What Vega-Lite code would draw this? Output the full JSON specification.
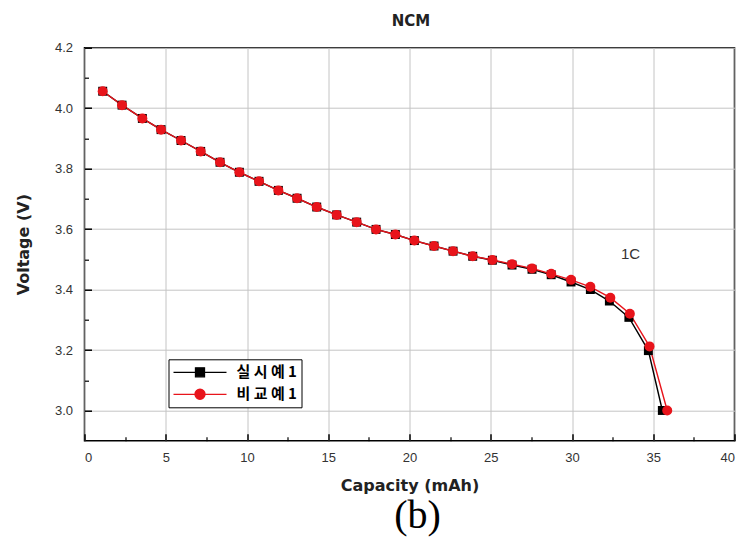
{
  "$schema": "https://vega.github.io/schema/vega-lite/v6.json",
  "width": 650,
  "height": 393,
  "autosize": {"type": "none"},
  "padding": {"left": 84.5, "top": 47.7, "right": 9.5, "bottom": 101.8},
  "background": "white",
  "title": {"text": "(b)", "orient": "bottom", "font": "Liberation Serif", "fontSize": 40, "fontWeight": "normal", "color": "#000", "offset": 2, "dx": 8},
  "config": {"view": {"stroke": "#000", "strokeWidth": 1.5}},
  "datasets": {
    "curves": [
      {"cap": 1.12, "v": 4.056, "series": "실 시 예 1"},
      {"cap": 2.31, "v": 4.010, "series": "실 시 예 1"},
      {"cap": 3.56, "v": 3.966, "series": "실 시 예 1"},
      {"cap": 4.71, "v": 3.929, "series": "실 시 예 1"},
      {"cap": 5.94, "v": 3.893, "series": "실 시 예 1"},
      {"cap": 7.15, "v": 3.857, "series": "실 시 예 1"},
      {"cap": 8.34, "v": 3.821, "series": "실 시 예 1"},
      {"cap": 9.53, "v": 3.788, "series": "실 시 예 1"},
      {"cap": 10.74, "v": 3.758, "series": "실 시 예 1"},
      {"cap": 11.93, "v": 3.728, "series": "실 시 예 1"},
      {"cap": 13.08, "v": 3.702, "series": "실 시 예 1"},
      {"cap": 14.29, "v": 3.673, "series": "실 시 예 1"},
      {"cap": 15.52, "v": 3.647, "series": "실 시 예 1"},
      {"cap": 16.75, "v": 3.623, "series": "실 시 예 1"},
      {"cap": 17.94, "v": 3.599, "series": "실 시 예 1"},
      {"cap": 19.13, "v": 3.582, "series": "실 시 예 1"},
      {"cap": 20.30, "v": 3.562, "series": "실 시 예 1"},
      {"cap": 21.51, "v": 3.544, "series": "실 시 예 1"},
      {"cap": 22.68, "v": 3.527, "series": "실 시 예 1"},
      {"cap": 23.89, "v": 3.510, "series": "실 시 예 1"},
      {"cap": 25.10, "v": 3.497, "series": "실 시 예 1"},
      {"cap": 26.31, "v": 3.481, "series": "실 시 예 1"},
      {"cap": 27.54, "v": 3.467, "series": "실 시 예 1"},
      {"cap": 28.72, "v": 3.449, "series": "실 시 예 1"},
      {"cap": 29.94, "v": 3.425, "series": "실 시 예 1"},
      {"cap": 31.13, "v": 3.400, "series": "실 시 예 1"},
      {"cap": 32.30, "v": 3.362, "series": "실 시 예 1"},
      {"cap": 33.50, "v": 3.308, "series": "실 시 예 1"},
      {"cap": 34.70, "v": 3.198, "series": "실 시 예 1"},
      {"cap": 35.56, "v": 3.000, "series": "실 시 예 1"},
      {"cap": 1.12, "v": 4.056, "series": "비 교 예 1"},
      {"cap": 2.31, "v": 4.010, "series": "비 교 예 1"},
      {"cap": 3.56, "v": 3.966, "series": "비 교 예 1"},
      {"cap": 4.71, "v": 3.929, "series": "비 교 예 1"},
      {"cap": 5.94, "v": 3.893, "series": "비 교 예 1"},
      {"cap": 7.15, "v": 3.857, "series": "비 교 예 1"},
      {"cap": 8.34, "v": 3.821, "series": "비 교 예 1"},
      {"cap": 9.53, "v": 3.788, "series": "비 교 예 1"},
      {"cap": 10.74, "v": 3.758, "series": "비 교 예 1"},
      {"cap": 11.93, "v": 3.728, "series": "비 교 예 1"},
      {"cap": 13.08, "v": 3.702, "series": "비 교 예 1"},
      {"cap": 14.29, "v": 3.673, "series": "비 교 예 1"},
      {"cap": 15.52, "v": 3.647, "series": "비 교 예 1"},
      {"cap": 16.75, "v": 3.623, "series": "비 교 예 1"},
      {"cap": 17.94, "v": 3.599, "series": "비 교 예 1"},
      {"cap": 19.13, "v": 3.582, "series": "비 교 예 1"},
      {"cap": 20.30, "v": 3.562, "series": "비 교 예 1"},
      {"cap": 21.51, "v": 3.544, "series": "비 교 예 1"},
      {"cap": 22.68, "v": 3.527, "series": "비 교 예 1"},
      {"cap": 23.89, "v": 3.510, "series": "비 교 예 1"},
      {"cap": 25.10, "v": 3.498, "series": "비 교 예 1"},
      {"cap": 26.31, "v": 3.484, "series": "비 교 예 1"},
      {"cap": 27.54, "v": 3.470, "series": "비 교 예 1"},
      {"cap": 28.72, "v": 3.452, "series": "비 교 예 1"},
      {"cap": 29.94, "v": 3.432, "series": "비 교 예 1"},
      {"cap": 31.13, "v": 3.409, "series": "비 교 예 1"},
      {"cap": 32.36, "v": 3.373, "series": "비 교 예 1"},
      {"cap": 33.56, "v": 3.320, "series": "비 교 예 1"},
      {"cap": 34.77, "v": 3.212, "series": "비 교 예 1"},
      {"cap": 35.86, "v": 3.000, "series": "비 교 예 1"}
    ],
    "labels": [
      {"cap": 33.6, "v": 3.517, "label": "1C"}
    ]
  },
  "resolve": {"axis": {"x": "independent", "y": "independent"}},
  "layer": [
    {
      "data": {"name": "curves"},
      "mark": {"type": "point", "filled": true, "size": 0, "opacity": 1, "fillOpacity": 1, "strokeOpacity": 1, "strokeWidth": 1.3},
      "encoding": {
        "x": {"field": "cap", "type": "quantitative", "scale": {"domain": [0, 40], "nice": false, "zero": false}, "axis": null},
        "y": {"field": "v", "type": "quantitative", "scale": {"domain": [2.9, 4.2], "nice": false, "zero": false}, "axis": null},
        "color": {
          "field": "series", "type": "nominal",
          "scale": {"domain": ["실 시 예 1", "비 교 예 1"], "range": ["#000000", "#e8141b"]},
          "legend": {
            "orient": "none", "legendX": 84, "legendY": 311.6, "title": null,
            "strokeColor": "#000", "fillColor": "#ffffff", "padding": 4, "cornerRadius": 0,
            "symbolSize": 2809, "clipHeight": 18, "rowPadding": 4, "symbolStrokeWidth": 1.3, "symbolOpacity": 1,
            "labelFont": "Noto Sans CJK KR", "labelFontSize": 15, "labelFontWeight": "bold", "labelColor": "#000", "labelOffset": 9
          }
        },
        "stroke": {
          "field": "series", "type": "nominal",
          "scale": {"domain": ["실 시 예 1", "비 교 예 1"], "range": ["#000000", "#e8141b"]},
          "legend": {"orient": "none", "legendX": 84, "legendY": 311.6, "title": null}
        },
        "shape": {
          "field": "series", "type": "nominal",
          "scale": {
            "domain": ["실 시 예 1", "비 교 예 1"],
            "range": ["M-1,0H1M-0.17,-0.17H0.17V0.17H-0.17Z", "M-1,0H1M-0.19,0A0.19,0.19,0,1,1,0.19,0A0.19,0.19,0,1,1,-0.19,0Z"]
          },
          "legend": {"orient": "none", "legendX": 84, "legendY": 311.6, "title": null}
        }
      }
    },
    {
      "data": {"name": "curves"},
      "mark": {"type": "line", "strokeWidth": 1.4},
      "encoding": {
        "x": {
          "field": "cap", "type": "quantitative",
          "axis": {
            "orient": "bottom", "values": [0, 5, 10, 15, 20, 25, 30, 35, 40],
            "grid": true, "gridColor": "#c4c4c4", "gridWidth": 1,
            "domain": false, "tickSize": -7, "tickColor": "#000", "tickWidth": 1.5,
            "labelFont": "Liberation Sans", "labelFontSize": 13, "labelColor": "#333", "labelPadding": 18,
            "title": "Capacity (mAh)", "titleFont": "DejaVu Sans", "titleFontSize": 16, "titleFontWeight": "bold", "titleColor": "#222", "titlePadding": 13
          }
        },
        "y": {
          "field": "v", "type": "quantitative",
          "axis": {
            "orient": "left", "values": [3.0, 3.2, 3.4, 3.6, 3.8, 4.0, 4.2], "format": ".1f",
            "grid": true, "gridColor": "#c4c4c4", "gridWidth": 1,
            "domain": false, "tickSize": -7, "tickColor": "#000", "tickWidth": 1.5,
            "labelFont": "Liberation Sans", "labelFontSize": 13, "labelColor": "#333", "labelPadding": 19,
            "title": "Voltage (V)", "titleFont": "DejaVu Sans", "titleFontSize": 16, "titleFontWeight": "bold", "titleColor": "#222", "titlePadding": 23
          }
        },
        "color": {"field": "series", "type": "nominal", "legend": null}
      }
    },
    {
      "data": {"name": "curves"},
      "transform": [{"filter": {"field": "series", "equal": "실 시 예 1"}}],
      "mark": {"type": "point", "shape": "square", "filled": true, "opacity": 1, "size": 80, "color": "#000000"},
      "encoding": {
        "x": {
          "field": "cap", "type": "quantitative",
          "axis": {
            "orient": "bottom", "values": [2.5, 7.5, 12.5, 17.5, 22.5, 27.5, 32.5, 37.5],
            "grid": false, "domain": false, "labels": false, "title": null,
            "tickSize": -4, "tickColor": "#000", "tickWidth": 1.2
          }
        },
        "y": {
          "field": "v", "type": "quantitative",
          "axis": {
            "orient": "left", "values": [3.1, 3.3, 3.5, 3.7, 3.9, 4.1],
            "grid": false, "domain": false, "labels": false, "title": null,
            "tickSize": -4, "tickColor": "#000", "tickWidth": 1.2
          }
        }
      }
    },
    {
      "data": {"name": "curves"},
      "transform": [{"filter": {"field": "series", "equal": "비 교 예 1"}}],
      "mark": {"type": "point", "shape": "circle", "filled": true, "opacity": 1, "size": 100, "color": "#e8141b"},
      "encoding": {
        "x": {"field": "cap", "type": "quantitative", "axis": null},
        "y": {"field": "v", "type": "quantitative", "axis": null}
      }
    },
    {
      "data": {"name": "labels"},
      "mark": {"type": "text", "font": "Liberation Sans", "fontSize": 15, "color": "#333", "align": "center", "baseline": "middle"},
      "encoding": {
        "x": {
          "field": "cap", "type": "quantitative",
          "axis": {
            "orient": "top", "labels": false, "ticks": false, "domain": false, "grid": false,
            "title": "NCM", "titleFont": "DejaVu Sans", "titleFontSize": 15, "titleFontWeight": "bold", "titleColor": "#222", "titlePadding": 19, "titleX": 326
          }
        },
        "y": {"field": "v", "type": "quantitative", "axis": null},
        "text": {"field": "label"}
      }
    }
  ]
}
